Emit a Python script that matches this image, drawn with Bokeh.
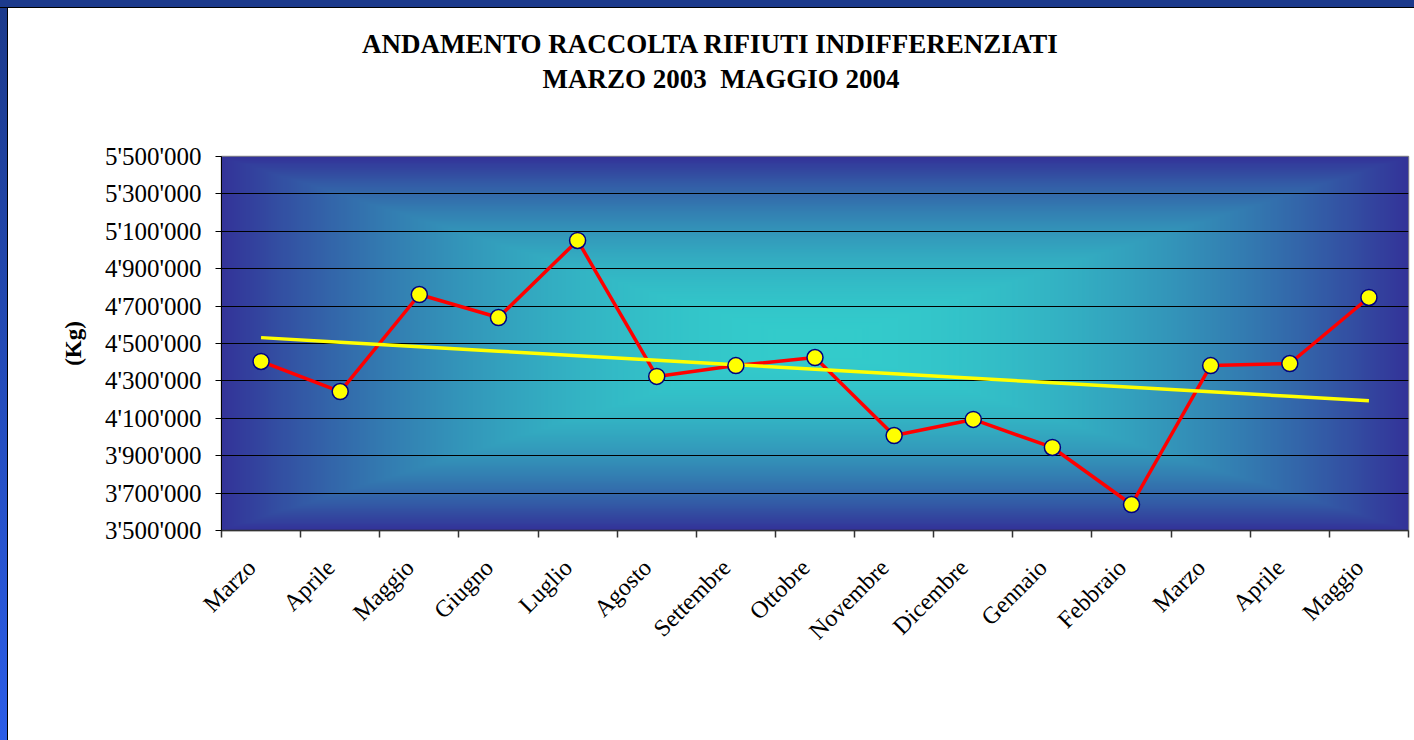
import math
import numpy as np
from bokeh.plotting import figure
from bokeh.models import Range1d, FixedTicker, Title, Div
from bokeh.layouts import column, row
from bokeh.embed import file_html
from bokeh.resources import INLINE

# ---------------- data ----------------
months = ["Marzo", "Aprile", "Maggio", "Giugno", "Luglio", "Agosto", "Settembre",
          "Ottobre", "Novembre", "Dicembre", "Gennaio", "Febbraio", "Marzo",
          "Aprile", "Maggio"]
kg = [4404000, 4243000, 4762000, 4639000, 5051000, 4324000, 4382000,
      4425000, 4008000, 4094000, 3944000, 3639000, 4382000, 4393000, 4746000]
y_ticks = [3500000, 3700000, 3900000, 4100000, 4300000, 4500000,
           4700000, 4900000, 5100000, 5300000, 5500000]
y_tick_labels = ["3'500'000", "3'700'000", "3'900'000", "4'100'000", "4'300'000",
                 "4'500'000", "4'700'000", "4'900'000", "5'100'000", "5'300'000",
                 "5'500'000"]
title_lines = ["ANDAMENTO RACCOLTA RIFIUTI INDIFFERENZIATI",
               "MARZO 2003\u00a0 MAGGIO 2004"]
y_title = "(Kg)"

# ---------------- derived ----------------
n = len(months)
xs = [i + 0.5 for i in range(n)]
coef = np.polyfit(xs, kg, 1)
trend = list(np.polyval(coef, xs))

FONT = "Liberation Serif"
BT, BL = 8, 8                     # slide border (top, left)
W, H = 1414 - BL, 740 - BT
ML, MR, MT, MB = 213, 6, 148, 210
y0, y1 = y_ticks[0], y_ticks[-1]

p = figure(width=W, height=H, output_backend="svg", toolbar_location=None,
           x_range=Range1d(0, n), y_range=Range1d(y0, y1),
           min_border_left=ML, min_border_right=MR,
           min_border_top=MT, min_border_bottom=MB)
p.background_fill_color = "white"
p.border_fill_color = "white"
p.outline_line_color = "#8a8a8a"
p.outline_line_width = 1.5

# gradient plot-area fill ("from centre")
nx, ny = 600, 200
u = np.abs(np.linspace(-1, 1, nx))[None, :]
v = np.abs(np.linspace(-1, 1, ny))[:, None]
t = np.maximum(u, v) ** 2
c_center = np.array([51, 204, 204])
c_edge = np.array([51, 51, 153])
rgb = c_center[None, None, :] * (1 - t[..., None]) + c_edge[None, None, :] * t[..., None]
img = np.empty((ny, nx), dtype=np.uint32)
view = img.view(dtype=np.uint8).reshape((ny, nx, 4))
view[..., 0] = rgb[..., 0].astype(np.uint8)
view[..., 1] = rgb[..., 1].astype(np.uint8)
view[..., 2] = rgb[..., 2].astype(np.uint8)
view[..., 3] = 255
p.image_rgba(image=[img], x=0, y=y0, dw=n, dh=y1 - y0, level="image")

# grid
p.xgrid.visible = False
p.ygrid.ticker = FixedTicker(ticks=y_ticks)
p.ygrid.grid_line_color = "black"
p.ygrid.grid_line_width = 1

# y axis
p.yaxis.ticker = FixedTicker(ticks=y_ticks, minor_ticks=[])
p.yaxis.major_label_overrides = {tk: lab for tk, lab in zip(y_ticks, y_tick_labels)}
p.yaxis.major_label_text_font = FONT
p.yaxis.major_label_text_font_size = "25px"
p.yaxis.major_label_text_color = "black"
p.yaxis.major_tick_out = 6
p.yaxis.major_tick_in = 0
p.yaxis.major_tick_line_color = "black"
p.yaxis.minor_tick_line_color = None
p.yaxis.axis_line_color = "black"
p.yaxis.major_label_standoff = 14
p.yaxis.axis_label = y_title
p.yaxis.axis_label_text_font = FONT
p.yaxis.axis_label_text_font_style = "bold"
p.yaxis.axis_label_text_font_size = "23px"
p.yaxis.axis_label_text_color = "black"
p.yaxis.axis_label_standoff = 16

# x axis: labels slightly left of category centre (as in the original),
# tick marks on category boundaries
label_pos = [x - 0.12 for x in xs]
p.xaxis.ticker = FixedTicker(ticks=label_pos, minor_ticks=list(range(n + 1)))
p.xaxis.major_label_overrides = {x: m for x, m in zip(label_pos, months)}
p.xaxis.major_label_orientation = math.pi / 4
p.xaxis.major_label_text_font = FONT
p.xaxis.major_label_text_font_size = "24px"
p.xaxis.major_label_text_color = "black"
p.xaxis.major_label_standoff = 26
p.xaxis.major_tick_line_color = None
p.xaxis.minor_tick_out = 7
p.xaxis.minor_tick_in = 0
p.xaxis.minor_tick_line_color = "#333333"
p.xaxis.minor_tick_line_width = 1.5
p.xaxis.axis_line_color = "#333333"
p.xaxis.axis_line_width = 1.5

# series
p.line(xs, kg, line_color="#FF0000", line_width=3.5)
p.line(xs, trend, line_color="#FFFF00", line_width=3.5)
p.scatter(xs, kg, size=16, marker="circle", fill_color="#FFFF00",
          line_color="#000080", line_width=1.5)

# title: two lines, centred on the slide (page x ~710)
title_cx = 710 - BL - ML          # centre relative to frame left
widths = [697, 336]               # effective text widths used for centring
standoffs = [0, 6]
# spacer between plot and title block
p.add_layout(Title(text=" ", text_font_size="10px", standoff=47), "above")
for line, w, so in zip(reversed(title_lines), reversed(widths), reversed(standoffs)):
    p.add_layout(Title(text=line, align="left", offset=title_cx - w / 2,
                       text_font=FONT, text_font_style="bold",
                       text_font_size="27px", text_color="black",
                       standoff=so), "above")

# slide border (top band + left band)
top_band = Div(width=1414, height=BT, margin=0,
               styles={"background": "#1C3A8C", "border-bottom": "1px solid black",
                       "box-sizing": "border-box"})
left_band = Div(width=BL, height=H, margin=0,
                styles={"background": "linear-gradient(#1C3A8C, #2B5DE8)",
                        "border-right": "1px solid black", "box-sizing": "border-box"})
layout = column(top_band, row(left_band, p, spacing=0), spacing=0)

open("out.html", "w").write(file_html(layout, INLINE))
